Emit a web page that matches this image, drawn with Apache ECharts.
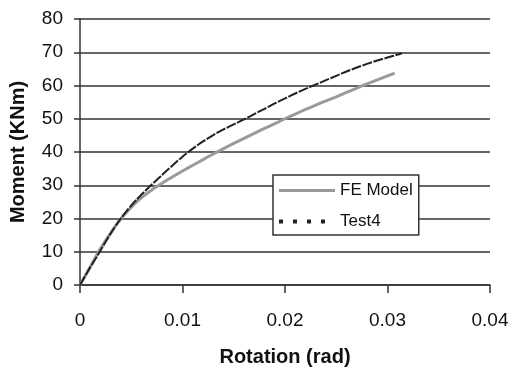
<!DOCTYPE html>
<html>
<head>
<meta charset="utf-8">
<script src="https://cdn.jsdelivr.net/npm/echarts@6/dist/echarts.min.js"></script>
<style>
html,body{margin:0;padding:0;background:#fff;}
#c{width:518px;height:374px;}
</style>
</head>
<body>
<div id="c"></div>
<script>
// Rotation (rad) vs Moment (KNm)
var feRotation = [0, 0.001, 0.002, 0.003, 0.0035, 0.004, 0.0045, 0.005, 0.0055, 0.006, 0.007, 0.008, 0.009, 0.010, 0.011, 0.012, 0.013, 0.014, 0.015, 0.016, 0.017, 0.018, 0.019, 0.020, 0.021, 0.022, 0.023, 0.024, 0.025, 0.026, 0.027, 0.028, 0.029, 0.030, 0.0307];
var feMoment   = [0, 5.5, 11.0, 15.7, 17.9, 19.9, 21.7, 23.4, 24.9, 26.3, 28.6, 30.6, 32.5, 34.3, 36.0, 37.7, 39.4, 41.0, 42.6, 44.1, 45.6, 47.1, 48.5, 50.0, 51.4, 52.8, 54.1, 55.4, 56.6, 57.9, 59.2, 60.5, 61.7, 62.9, 63.7];

var testRotation = [0, 0.0005, 0.001, 0.0015, 0.002, 0.0025, 0.003, 0.0035, 0.004, 0.0045, 0.005, 0.0055, 0.006, 0.007, 0.008, 0.009, 0.010, 0.011, 0.012, 0.013, 0.014, 0.015, 0.016, 0.017, 0.018, 0.019, 0.020, 0.021, 0.022, 0.023, 0.024, 0.025, 0.026, 0.027, 0.028, 0.029, 0.030, 0.031, 0.0314];
var testMoment   = [0, 2.7, 5.3, 7.8, 10.4, 13.0, 15.5, 17.9, 20.1, 22.1, 23.9, 25.6, 27.2, 30.2, 33.1, 35.9, 38.6, 41.0, 43.2, 45.1, 46.8, 48.3, 49.8, 51.4, 53.0, 54.6, 56.1, 57.6, 59.0, 60.3, 61.6, 62.9, 64.2, 65.4, 66.5, 67.5, 68.4, 69.3, 69.7];

var xTicks = [0, 0.01, 0.02, 0.03, 0.04];
var yTicks = [0, 10, 20, 30, 40, 50, 60, 70, 80];
var seriesNames = ['FE Model', 'Test4'];

function pairs(xs, ys){ return xs.map(function(x,i){ return [x, ys[i]]; }); }

var chart = echarts.init(document.getElementById('c'));
chart.setOption({
  backgroundColor: '#fff',
  animation: false,
  textStyle: {fontFamily: 'Liberation Sans, Arial, sans-serif'},
  grid: {left: 80, top: 19, right: 28, bottom: 89},
  xAxis: {
    type: 'value',
    min: xTicks[0], max: xTicks[xTicks.length-1], interval: 0.01,
    name: 'Rotation (rad)', nameLocation: 'middle', nameGap: 62,
    nameTextStyle: {fontSize: 20, fontWeight: 'bold', color: '#111'},
    axisLine: {show: true, lineStyle: {color: '#333', width: 1.5}},
    axisTick: {show: true, inside: false, length: 8, lineStyle: {color: '#333', width: 1.5}},
    axisLabel: {fontSize: 19, color: '#111', margin: 26,
      formatter: function(v){ return v === 0 ? '0' : v.toFixed(2); }},
    splitLine: {show: false}
  },
  yAxis: {
    type: 'value',
    min: yTicks[0], max: yTicks[yTicks.length-1], interval: 10,
    name: 'Moment (KNm)', nameLocation: 'middle', nameGap: 52, nameRotate: 90,
    nameTextStyle: {fontSize: 20, fontWeight: 'bold', color: '#111'},
    axisLine: {show: true, lineStyle: {color: '#333', width: 1.5}},
    axisTick: {show: true, length: 6, lineStyle: {color: '#333', width: 1.5}},
    axisLabel: {fontSize: 19, color: '#111', margin: 17},
    splitLine: {show: true, lineStyle: {color: '#333', width: 1.5}}
  },
  legend: {
    orient: 'vertical',
    left: 273, top: 175,
    padding: [7, 6, 5, 4],
    itemWidth: 56, itemHeight: 16, itemGap: 14,
    borderColor: '#333', borderWidth: 1.5, backgroundColor: '#fff',
    textStyle: {fontSize: 17, color: '#111'},
    itemStyle: {opacity: 0},
    data: [
      {name: seriesNames[0], lineStyle: {color: '#999', width: 3, type: 'solid'}},
      {name: seriesNames[1], lineStyle: {color: '#222', width: 4, type: [4, 10]}}
    ]
  },
  series: [
    {name: seriesNames[0], type: 'line', data: pairs(feRotation, feMoment), showSymbol: false, symbol: 'none',
     smooth: 0.2,
     lineStyle: {color: '#9a9a9a', width: 3}, itemStyle: {color: '#9a9a9a'}, z: 2},
    {name: seriesNames[1], type: 'line', data: pairs(testRotation, testMoment), showSymbol: false, symbol: 'none',
     smooth: 0.2,
     lineStyle: {color: '#222', width: 2, type: [10, 1.5]}, itemStyle: {color: '#222'}, z: 3}
  ]
});
</script>
</body>
</html>
